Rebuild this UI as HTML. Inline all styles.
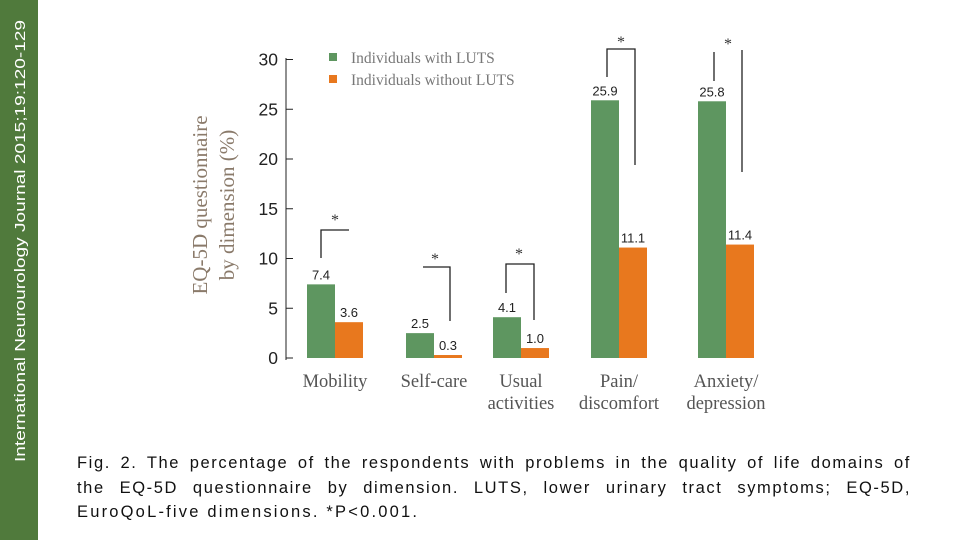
<!DOCTYPE html>
<html><head><meta charset="utf-8"><style>
body{margin:0;width:960px;height:540px;background:#fff;overflow:hidden;position:relative;font-family:"Liberation Sans",sans-serif}
#side{position:absolute;left:0;top:0;width:38px;height:540px;background:#507a3c}
#cap{position:absolute;left:77px;top:451px;width:834px;font-size:16.5px;line-height:24.5px;color:#111;letter-spacing:2.2px}
#cap div{text-align:justify;text-align-last:justify;white-space:nowrap}
#cap div.last{text-align-last:left}
</style></head><body>
<div id="side"><svg width="38" height="540"><text transform="translate(25,462) rotate(-90)" textLength="442" lengthAdjust="spacingAndGlyphs" font-size="14.5" fill="#fff" font-family="Liberation Sans, sans-serif">International Neurourology Journal 2015;19:120-129</text></svg></div>
<svg id="chart" width="960" height="440" style="position:absolute;left:0;top:0" font-family="Liberation Serif, serif"></svg>
<div id="cap">
<div style="white-space:normal;letter-spacing:1.6px">Fig. 2. The percentage of the respondents with problems in the quality of life domains of</div>
<div style="white-space:normal;letter-spacing:1.6px">the EQ-5D questionnaire by dimension. LUTS, lower urinary tract symptoms; EQ-5D,</div>
<div class="last">EuroQoL-five dimensions. *P&lt;0.001.</div>
</div>
<script>
const categories=["Mobility","Self-care","Usual|activities","Pain/|discomfort","Anxiety/|depression"];
const withLUTS=[7.4,2.5,4.1,25.9,25.8];
const withoutLUTS=[3.6,0.3,1.0,11.1,11.4];
const ticks=[0,5,10,15,20,25,30];
const ns="http://www.w3.org/2000/svg",svg=document.getElementById('chart');
const y0=358,k=9.95;const y=v=>y0-v*k;
const gx=[307,406,493,591,698],bw=28;
function el(t,a,txt){const e=document.createElementNS(ns,t);for(const n in a)e.setAttribute(n,a[n]);if(txt!=null)e.textContent=txt;svg.appendChild(e);return e;}
let ax=el('line',{x1:286,x2:286,y1:58,y2:360,stroke:'#222','stroke-width':1});

ticks.forEach(t=>{let l=el('line',{x1:286,x2:293,y1:y(t),y2:y(t),stroke:'#222'});

let tx=el('text',{x:278,y:y(t)+6,'text-anchor':'end','font-family':'Liberation Sans, sans-serif','font-size':17.5,fill:'#222'},t);
});
let yt=el('text',{transform:'translate(207,205) rotate(-90)','text-anchor':'middle','font-size':21,fill:'#8a7a6a'});

yt.innerHTML='<tspan x="0" dy="0">EQ-5D questionnaire</tspan><tspan x="0" dy="27">by dimension (%)</tspan>';
categories.forEach((c,i)=>{
 const x=gx[i];
 let g=el('rect',{x:x,y:y(withLUTS[i]),width:bw,height:withLUTS[i]*k,fill:'#5e9660'});
 
 let o=el('rect',{x:x+bw,y:y(withoutLUTS[i]),width:bw,height:withoutLUTS[i]*k,fill:'#e8781e'});
 
 let v1=el('text',{x:x+bw/2,y:y(withLUTS[i])-5,'text-anchor':'middle','font-family':'Liberation Sans, sans-serif','font-size':13,fill:'#222'},withLUTS[i].toFixed(1));
 
 let v2=el('text',{x:x+bw*1.5,y:y(withoutLUTS[i])-5,'text-anchor':'middle','font-family':'Liberation Sans, sans-serif','font-size':13,fill:'#222'},withoutLUTS[i].toFixed(1));
 
 c.split('|').forEach((s,j)=>{let t=el('text',{x:x+bw,y:387+j*22,'text-anchor':'middle','font-size':18.5,fill:'#555'},s);
 });
});
const brackets=[
 "M321,258 V230 H349",
 "M423,267 H450 V321",
 "M506,293 V264 H534 V320",
 "M607,77 V49 H635 V165",
 "M714,81 V52 M742,50 V172"];
const stars=[[335,225],[435,264],[519,259],[621,47],[728,49]];
brackets.forEach((d,i)=>{let p=el('path',{d:d,fill:'none',stroke:'#222','stroke-width':1.3});

let s=el('text',{x:stars[i][0],y:stars[i][1],'text-anchor':'middle','font-size':16,fill:'#333'},'*');
});
[["Individuals with LUTS",'#5e9660',58],["Individuals without LUTS",'#e8781e',80]].forEach(l=>{
 let r=el('rect',{x:329,y:l[2]-5,width:8,height:8,fill:l[1]});
 
 let t=el('text',{x:351,y:l[2]+5,'font-size':15.5,fill:'#777'},l[0]);
 });
</script>
</body></html>
